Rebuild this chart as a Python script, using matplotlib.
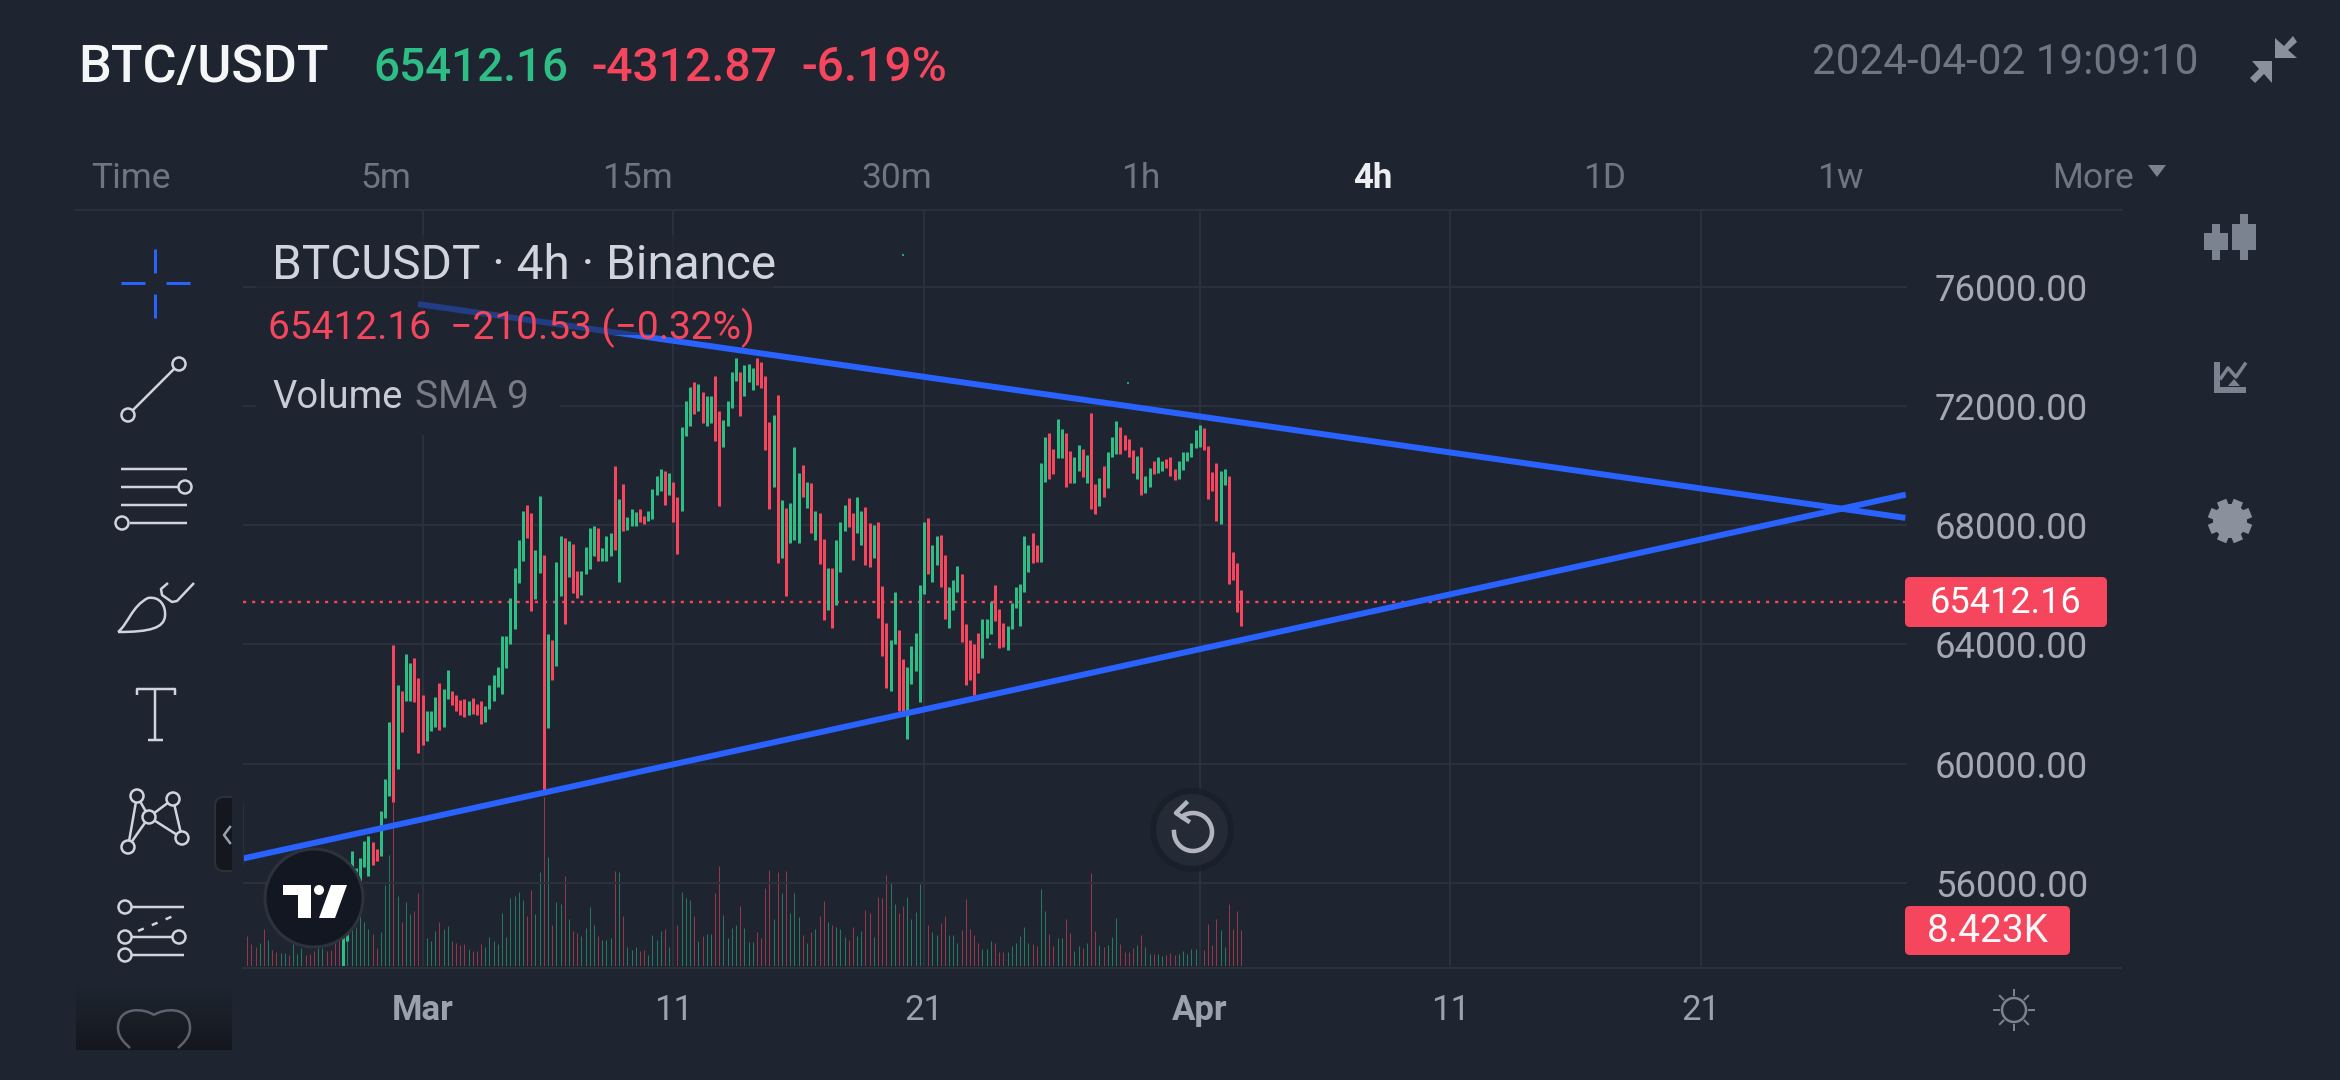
import numpy as np
import matplotlib
matplotlib.use("Agg")
import matplotlib.pyplot as plt
from matplotlib.colors import LinearSegmentedColormap
from matplotlib.patches import Circle, FancyBboxPatch, PathPatch, Polygon, Rectangle
from matplotlib.path import Path

plt.rcParams["font.family"] = ["Roboto", "DejaVu Sans"]

# data, x is the 4h candle number counted from 1 March
first_candle = -19
first_volume = -42
bar_top = [
    54180, 55490, 57060, 56480, 56830, 57410, 57570, 57380, 57120, 58400,
    59490, 61380, 63980, 62650, 62440, 63690, 63370, 63550, 62880,
    62300, 61770, 61770, 62250, 62690, 62510, 63130, 62430, 62300, 62150,
    62180, 62110, 62210, 62000, 62110, 61920, 62650, 62980, 63240, 64290,
    64290, 65560, 66570, 67520, 68480, 68680, 68410, 67160, 68990, 67010,
    64360, 64160, 66780, 67640, 67590, 67460, 67370, 66470, 66470, 67270,
    67910, 67970, 67910, 67240, 67650, 67750, 69990, 68870, 69400, 68290,
    68550, 68440, 68540, 68320, 68470, 69220, 69640, 69890, 69830, 69750,
    69450, 68950, 71290, 72190, 72630, 72800, 72730, 72480, 72340, 72360,
    73000, 71830, 71540, 72190, 73160, 73630, 73160, 73380, 73410, 73270,
    73630, 73500, 73010, 71460, 71700, 72390, 68850, 68570, 68740, 70640,
    69750, 70020, 69450, 69420, 68480, 68420, 67550, 66580, 66580, 67510,
    68120, 68690, 68920, 68420, 68950, 68480, 68600, 68090, 68020, 68120,
    65970, 64730, 64160, 65770, 64500, 63500, 63230, 63960, 64400, 66010,
    68120, 68230, 67330, 67650, 67670, 66990, 65940, 66170, 66630, 66360,
    64690, 64140, 64000, 64390, 64870, 64860, 65430, 65990, 65190, 64720,
    64610, 65380, 65940, 66040, 67650, 67330, 67740, 67330, 70090, 70970,
    71110, 70570, 71560, 71250, 71110, 70490, 70280, 70710, 70570, 70350,
    71760, 69390, 69600, 69990, 70450, 70960, 71510, 71290, 71040, 70890,
    70520, 70340, 70630, 69660, 69920, 70160, 70310, 70170, 70240, 70290,
    69880, 70160, 70450, 70450, 70770, 71210, 71360, 71280, 70650, 69780,
    70090, 69820, 69890, 69660, 67100, 66720, 65830,
]
bar_bottom = [
    52000, 54030, 56440, 56210, 56070, 56510, 56210, 56580, 56720, 56900,
    58180, 58910, 58720, 59810, 61060, 62110, 62110, 62060, 60360,
    60610, 60750, 61090, 61230, 61130, 61230, 62180, 61960, 61770, 61630,
    61570, 61630, 61670, 61630, 61340, 61410, 61820, 62110, 62570, 62330,
    63200, 64000, 64510, 66060, 66790, 67560, 65120, 65530, 66400, 59120,
    61190, 62790, 63270, 65630, 64680, 66250, 65740, 65570, 65670, 66370,
    66540, 66980, 66810, 66790, 66790, 66980, 67160, 66080, 67820, 67850,
    67970, 67970, 68120, 68030, 68150, 68220, 69020, 69160, 68670, 69020,
    68100, 67050, 68470, 71000, 71320, 71750, 71830, 71420, 71320, 71420,
    70820, 68640, 70620, 71350, 71930, 72840, 71670, 72360, 72800, 72540,
    72700, 72600, 70540, 68550, 69300, 66730, 66910, 65620, 67420, 67510,
    67420, 68950, 68590, 67730, 67520, 66690, 64830, 65150, 64550, 65310,
    66440, 67800, 67950, 66830, 67730, 67330, 66660, 66590, 66910, 64890,
    63610, 62540, 62440, 64000, 61750, 61750, 60810, 62680, 63100, 62060,
    65690, 66360, 66080, 66660, 65940, 64870, 64550, 65150, 65770, 64070,
    62640, 62790, 62310, 63030, 63540, 64210, 64340, 64800, 63890, 63930,
    63820, 64510, 65220, 64620, 65760, 66420, 66730, 66770, 66770, 69460,
    69570, 69740, 70270, 70270, 69300, 69430, 69410, 69820, 69630, 69430,
    68550, 68370, 68640, 68940, 69270, 70310, 70380, 70410, 70520, 70280,
    69750, 69570, 69030, 69090, 69300, 69740, 69750, 69820, 69920, 69660,
    69520, 69570, 69850, 70160, 70310, 70590, 70630, 70540, 68890, 69160,
    68160, 68050, 69340, 66020, 66170, 65080, 64620,
]
bar_dir = (
    "GGGGGGGRRGGGRGRGGRR"
    "RGGGRGGRRRRGRRRGGGGGGGGGGRRGGRGRGGRGRRGGGGRGGGRGRGGGRRGGGGRG"
    "RRGGGRGRGGRRGGGGRGGG"
    "RRRRGRGRGGGRGRGRRGRGGGRRGGRRGRRRGGRRGGGGGRGGRRGGGRRRRRGGGRRR"
    "GGGGGGRRGGRRGGRRGGRGRRGRGGGRRRRGRGGRGGRRRGGGGGGRRRRGGRRRR"
)
# thousands of BTC, one per bar from first_volume on
volumes = [
    7.1, 5.1, 4.4, 5.3, 8.6, 6.1, 3.8, 3.3, 3.0, 3.0, 2.5, 5.1, 2.7, 4.1, 2.5, 2.7,
    3.6, 4.1, 4.1, 3.6, 3.8, 5.6, 6.1, 6.6, 7.1, 8.6, 9.1, 12.7, 10.2, 8.6, 7.4, 4.1,
    7.9, 19.0, 25.9, 38.3, 16.5, 10.2, 14.9, 12.2, 12.9, 17.1,
    10.2, 6.6, 5.8, 8.1, 10.2, 8.6, 9.4, 5.8, 5.3, 4.9,
    5.1, 3.9, 3.6, 3.6, 5.1, 4.4, 6.8, 5.8, 5.1, 12.5,
    6.8, 15.9, 16.4, 17.3, 15.5, 11.7, 17.8, 12.2, 22.0, 39.6,
    25.6, 9.6, 15.0, 14.4, 21.1, 10.9, 8.1, 7.8, 7.1, 8.9,
    13.7, 9.6, 7.1, 6.1, 6.1, 6.6, 22.3, 22.0, 11.7, 4.4,
    3.8, 4.4, 3.6, 3.8, 2.5, 7.3, 6.1, 8.1, 8.6, 4.4,
    6.6, 9.6, 17.3, 15.9, 15.5, 11.7, 5.8, 7.1, 7.4, 7.6,
    17.0, 23.5, 11.9, 6.6, 8.8, 9.6, 14.0, 8.9, 5.7, 5.7,
    8.0, 6.5, 18.3, 22.5, 10.9, 22.0, 17.1, 22.2, 12.5, 17.1,
    11.4, 7.3, 5.3, 8.0, 8.6, 11.8, 15.2, 10.3, 9.6, 9.1,
    8.7, 6.8, 6.2, 9.1, 7.0, 8.3, 13.0, 12.3, 6.8, 16.2,
    15.9, 21.4, 19.4, 14.5, 12.5, 14.1, 16.2, 11.1, 12.6, 19.2,
    14.3, 9.6, 8.0, 7.2, 10.1, 11.8, 7.2, 7.2, 5.3, 8.4,
    15.7, 8.6, 7.2, 5.5, 3.9, 3.9, 5.8, 5.3, 3.3, 3.3,
    3.3, 4.6, 5.5, 7.0, 9.1, 5.5, 5.2, 4.6, 18.1, 12.8,
    7.5, 4.6, 6.5, 6.5, 11.1, 7.8, 3.6, 4.6, 4.3, 5.3,
    21.8, 8.3, 5.0, 4.4, 5.0, 6.8, 11.2, 5.2, 3.3, 3.3,
    4.1, 5.0, 7.2, 4.4, 2.8, 2.8, 2.8, 2.3, 2.6, 3.1,
    2.6, 2.8, 3.6, 2.8, 3.9, 3.9, 3.9, 3.8, 9.9, 5.0,
    11.1, 8.4, 4.4, 14.5, 8.7, 12.8, 8.423,
]
early_volume_dir = "RRRGRGRRGGRGGGRRRGGRRRR"

price_ticks = [76000, 72000, 68000, 64000, 60000, 56000]
date_ticks = [0, 60, 120, 186, 246, 306]
date_labels = ["Mar", "11", "21", "Apr", "11", "21"]
last_price = 65412.16
upper_trend_x, upper_trend_y = [-1.1, 354.9], [75430, 68250]
lower_trend_x, lower_trend_y = [-43.0, 355.0], [56810, 69030]

BG = "#1e2530"
GRID = "#2a313c"
GREEN = "#2ebd85"
RED = "#f6465d"
BLUE = "#2962ff"
ICON = "#d1d4dc"
MUTED = "#7b8290"
W, H = 2340, 1080
PX = 0.72  # one pixel in points at dpi 100

fig = plt.figure(figsize=(W / 100, H / 100), dpi=100, facecolor=BG)
rect = [243 / W, 1 - 966 / H, (1907 - 243) / W, (966 - 210) / H]

# volume pane
ax_vol = fig.add_axes(rect, zorder=1, facecolor=BG)
vol_x = np.arange(first_volume, first_volume + len(volumes))
vol_dir = early_volume_dir + bar_dir
vol_colors = [GREEN if d == "G" else RED for d in vol_dir]
ax_vol.vlines(vol_x, 0, volumes, colors=vol_colors, linewidth=1.0 * PX, alpha=0.55)
ax_vol.set_xlim(-43, 355.3)
ax_vol.set_ylim(0, 177)
ax_vol.axis("off")

# candles
ax = fig.add_axes(rect, zorder=2, facecolor="none")
bar_x = np.arange(first_candle, first_candle + len(bar_top))
bar_colors = [GREEN if d == "G" else RED for d in bar_dir]
ax.vlines(bar_x, bar_bottom, bar_top, colors=bar_colors, linewidth=3 * PX, capstyle="butt", zorder=3)
ax.axhline(last_price, color=RED, linewidth=2.4 * PX, linestyle=(0, (1.3, 2.5)), zorder=2)
ax.plot(upper_trend_x, upper_trend_y, color=BLUE, linewidth=6 * PX, solid_capstyle="butt", zorder=4)
ax.plot(lower_trend_x, lower_trend_y, color=BLUE, linewidth=6 * PX, solid_capstyle="butt", zorder=4)
ax.set_xlim(-43, 355.3)
ax.set_ylim(53200, 78590)
ax.yaxis.tick_right()
ax.set_yticks(price_ticks, [f"{p:.2f}" for p in price_ticks])
ax.set_xticks(date_ticks, date_labels)
ax.grid(True, color=GRID, linewidth=2 * PX, zorder=1)
ax.set_axisbelow(True)
ax.tick_params(axis="both", length=0, labelcolor="#a3a8b4", labelsize=26.3)
ax.tick_params(axis="y", pad=20)
ax.tick_params(axis="x", pad=20, labelcolor="#9ba1ad", labelsize=25)
for tick in ax.get_xticklabels():
    if tick.get_text() in ("Mar", "Apr"):
        tick.set_fontweight("bold")
for spine in ax.spines.values():
    spine.set_visible(False)

# everything else on the screen, in screen pixels
ui = fig.add_axes([0, 0, 1, 1], zorder=3, facecolor="none")
ui.axis("off")

# top and bottom frame lines
ui.plot([76, 2121], [210, 210], color=GRID, lw=2 * PX)
ui.plot([243, 2121], [968, 968], color=GRID, lw=2 * PX)

# header
ui.text(78, 68, "BTC/USDT", color="#f5f6f8", fontsize=37.5, va="center", fontweight="medium")
ui.text(373, 68, "65412.16", color=GREEN, fontsize=33, va="center", fontweight="medium")
ui.text(591, 68, "-4312.87", color=RED, fontsize=33.3, va="center", fontweight="medium")
ui.text(801, 68, "-6.19%", color=RED, fontsize=34.5, va="center", fontweight="medium")
ui.text(2198, 63, "2024-04-02 19:09:10", color="#6e7583", fontsize=30.3, va="center", ha="right")
ui.add_patch(Polygon([(2275, 38), (2275, 58), (2297, 58), (2288, 50), (2297, 42), (2293, 36), (2284, 46)], fc="#8a909c"))
ui.add_patch(Polygon([(2272, 61), (2272, 83), (2264, 74), (2255, 83), (2250, 78), (2259, 69), (2252, 61)], fc="#8a909c"))

# timeframe tabs
tabs = [("Time", 131), ("5m", 386), ("15m", 637), ("30m", 897), ("1h", 1141), ("4h", 1373), ("1D", 1605), ("1w", 1840)]
for label, x in tabs:
    if label == "4h":
        ui.text(x, 178, label, color="#eceef1", fontsize=25, ha="center", va="center", fontweight="bold")
    else:
        ui.text(x, 178, label, color="#6e7583", fontsize=25.5, ha="center", va="center")
ui.text(2093, 178, "More", color="#6e7583", fontsize=25.5, ha="center", va="center")
ui.add_patch(Polygon([(2148, 165), (2166, 165), (2157, 177)], fc="#7b8290"))

# legend block dims what is under it
ui.add_patch(Rectangle((256, 235), 517, 100, fc=BG, ec="none", alpha=0.6))
ui.add_patch(Rectangle((256, 335), 304, 100, fc=BG, ec="none", alpha=0.92))
ui.text(272, 266, "BTCUSDT · 4h · Binance", color="#d1d4dc", fontsize=34.4, va="center")
ui.text(268, 328, "65412.16  −210.53 (−0.32%)", color=RED, fontsize=28, va="center")
ui.text(272, 398, "Volume", color="#c8ccd4", fontsize=27.5, va="center")
ui.text(415, 398, "SMA 9", color="#787b86", fontsize=28, va="center")

# price tags
ui.add_patch(FancyBboxPatch((1909, 581), 194, 42, boxstyle="round,pad=4,rounding_size=5", fc=RED, ec="none"))
ui.text(2006, 603, "65412.16", color="white", fontsize=26, ha="center", va="center")
ui.add_patch(FancyBboxPatch((1909, 910), 157, 41, boxstyle="round,pad=4,rounding_size=5", fc=RED, ec="none"))
ui.text(1988, 932, "8.423K", color="#f7f7f7", fontsize=28, ha="center", va="center")

# stray teal specks
ui.scatter([903, 1128, 990], [255, 383, 644], s=4, color="#1f9e98", marker="s", linewidths=0)

# left toolbar: crosshair
for xs, ys in [([155, 155], [249, 273]), ([155, 155], [294, 318]), ([121, 145], [283, 283]), ([166, 190], [283, 283])]:
    ui.plot(xs, ys, color=BLUE, lw=3 * PX, solid_capstyle="butt")


def node(x, y, r=6.5):
    ui.add_patch(Circle((x, y), r, fc=BG, ec=ICON, lw=2.5 * PX, zorder=5))


def stroke(xs, ys, lw=2.5):
    ui.plot(xs, ys, color=ICON, lw=lw * PX, solid_capstyle="butt", zorder=4)


# trend line tool
stroke([128, 179], [415, 364])
node(128, 415)
node(179, 364)
# parallel lines tool
stroke([121, 187], [469, 469])
stroke([121, 178], [487, 487])
stroke([121, 187], [505, 505])
stroke([130, 187], [523, 523])
node(185, 487)
node(122, 523)
# brush
brush = Path(
    [(118, 632), (128, 624), (132, 606), (148, 598), (160, 596), (166, 606), (165, 616), (164, 628), (150, 632), (118, 632)],
    [Path.MOVETO, Path.CURVE4, Path.CURVE4, Path.CURVE4, Path.CURVE4, Path.CURVE4, Path.CURVE4, Path.CURVE4, Path.CURVE4, Path.CURVE4],
)
ui.add_patch(PathPatch(brush, fc="none", ec=ICON, lw=2.5 * PX))
stroke([168, 161, 162, 172, 177, 194], [583, 589, 595, 602, 601, 583])
# text tool
stroke([137, 137, 175, 175], [695, 689, 689, 695])
stroke([155, 155], [689, 740])
stroke([148, 163], [740, 740])
# pattern tool
stroke([128, 137, 149, 128], [847, 796, 817, 847])
stroke([149, 173, 182, 149], [817, 799, 838, 817])
for x, y in [(137, 796), (173, 799), (149, 817), (182, 838), (128, 847)]:
    node(x, y)
# fib tool
stroke([125, 184], [907, 907])
stroke([125, 179], [937, 937])
stroke([125, 184], [955, 955])
ui.plot([138, 178], [931, 914], color=ICON, lw=2.5 * PX, linestyle=(0, (2.5, 3.5)))
for x, y in [(125, 907), (125, 937), (179, 937), (125, 955)]:
    node(x, y)
# favourites heart sits in a fade
fade = LinearSegmentedColormap.from_list("fade", [BG, "#14171e"])
ui.imshow(np.linspace(0, 1, 64).reshape(-1, 1), cmap=fade, extent=(76, 232, 1050, 986), aspect="auto", zorder=1)
heart = Path(
    [(154, 1015), (144, 1008), (118, 1006), (118, 1028), (118, 1038), (126, 1044), (130, 1048)],
    [Path.MOVETO, Path.CURVE4, Path.CURVE4, Path.CURVE4, Path.CURVE4, Path.CURVE4, Path.CURVE4],
)
heart_right = Path(
    [(154, 1015), (164, 1008), (190, 1006), (190, 1028), (190, 1038), (182, 1044), (178, 1048)],
    [Path.MOVETO, Path.CURVE4, Path.CURVE4, Path.CURVE4, Path.CURVE4, Path.CURVE4, Path.CURVE4],
)
ui.add_patch(PathPatch(heart, fc="none", ec="#5d626e", lw=2.5 * PX, zorder=2))
ui.add_patch(PathPatch(heart_right, fc="none", ec="#5d626e", lw=2.5 * PX, zorder=2))
# collapse tab
ui.add_patch(FancyBboxPatch((217, 799), 24, 70, boxstyle="round,pad=2,rounding_size=9", fc="#14171e", ec="#2b313b", lw=2 * PX))
ui.add_patch(Rectangle((232, 790), 11, 90, fc=BG, ec="none"))
ui.plot([230, 224, 230], [827, 835, 843], color="#9ba1ad", lw=2.5 * PX)

# tradingview logo
ui.add_patch(Circle((314, 898), 49, fc="#131722", ec="#2d333d", lw=3 * PX, zorder=6))
ui.add_patch(Polygon([(283, 885), (311, 885), (311, 918), (298, 918), (298, 895), (283, 895)], fc="white", zorder=7))
ui.add_patch(Circle((319, 890), 5, fc="white", zorder=7))
ui.add_patch(Polygon([(331, 885), (347, 885), (335, 918), (319, 918)], fc="white", zorder=7))

# back to latest button
ui.add_patch(Circle((1192, 830), 42, fc="#1a1f28", ec="none", alpha=0.8, zorder=6))
ui.add_patch(Circle((1192, 830), 36, fc="#252b36", ec="none", zorder=6))
arc_angle = np.radians(np.linspace(-125, 180, 40))
ui.plot(1193 + 19 * np.cos(arc_angle), 832 + 19 * np.sin(arc_angle), color="#b2b5be", lw=4.5 * PX, zorder=7)
ui.plot([1186, 1176, 1188], [803, 813, 821], color="#b2b5be", lw=4.5 * PX, zorder=7)

# right toolbar
for x0, x1, w0, w1, b0, b1, t0, t1 in [(2204, 2228, 2212, 2220, 233, 250, 224, 260), (2232, 2256, 2240, 2248, 224, 250, 214, 260)]:
    ui.add_patch(Rectangle((x0, b0), x1 - x0, b1 - b0, fc=MUTED, ec="none"))
    ui.add_patch(Rectangle((w0, t0), w1 - w0, t1 - t0, fc=MUTED, ec="none"))
ui.plot([2217, 2217, 2246], [362, 390, 390], color=MUTED, lw=6 * PX, solid_joinstyle="miter", solid_capstyle="butt")
ui.plot([2221, 2228, 2236, 2245], [378, 368, 377, 364], color=MUTED, lw=3.5 * PX)
ui.add_patch(Polygon([(2228, 386), (2240, 386), (2234, 379)], fc=MUTED))
gear_angle = np.radians(np.arange(0, 360, 45) + 22.5)
for a in gear_angle:
    ui.plot([2230, 2230 + 22 * np.cos(a)], [521, 521 + 22 * np.sin(a)], color="#8a909c", lw=10 * PX, solid_capstyle="butt")
ui.add_patch(Circle((2230, 521), 17, fc="#8a909c", ec="none"))
ui.add_patch(Circle((2230, 521), 7, fc=BG, ec="none"))
# theme sun
ui.add_patch(Circle((2014, 1010), 12, fc="none", ec=MUTED, lw=2.5 * PX))
for a in np.radians(np.arange(0, 360, 45)):
    ui.plot([2014 + 15 * np.cos(a), 2014 + 20 * np.cos(a)], [1010 + 15 * np.sin(a), 1010 + 20 * np.sin(a)], color=MUTED, lw=2 * PX)

ui.set_xlim(0, W)
ui.set_ylim(H, 0)

fig.savefig("out.png", dpi=100, facecolor=BG)
